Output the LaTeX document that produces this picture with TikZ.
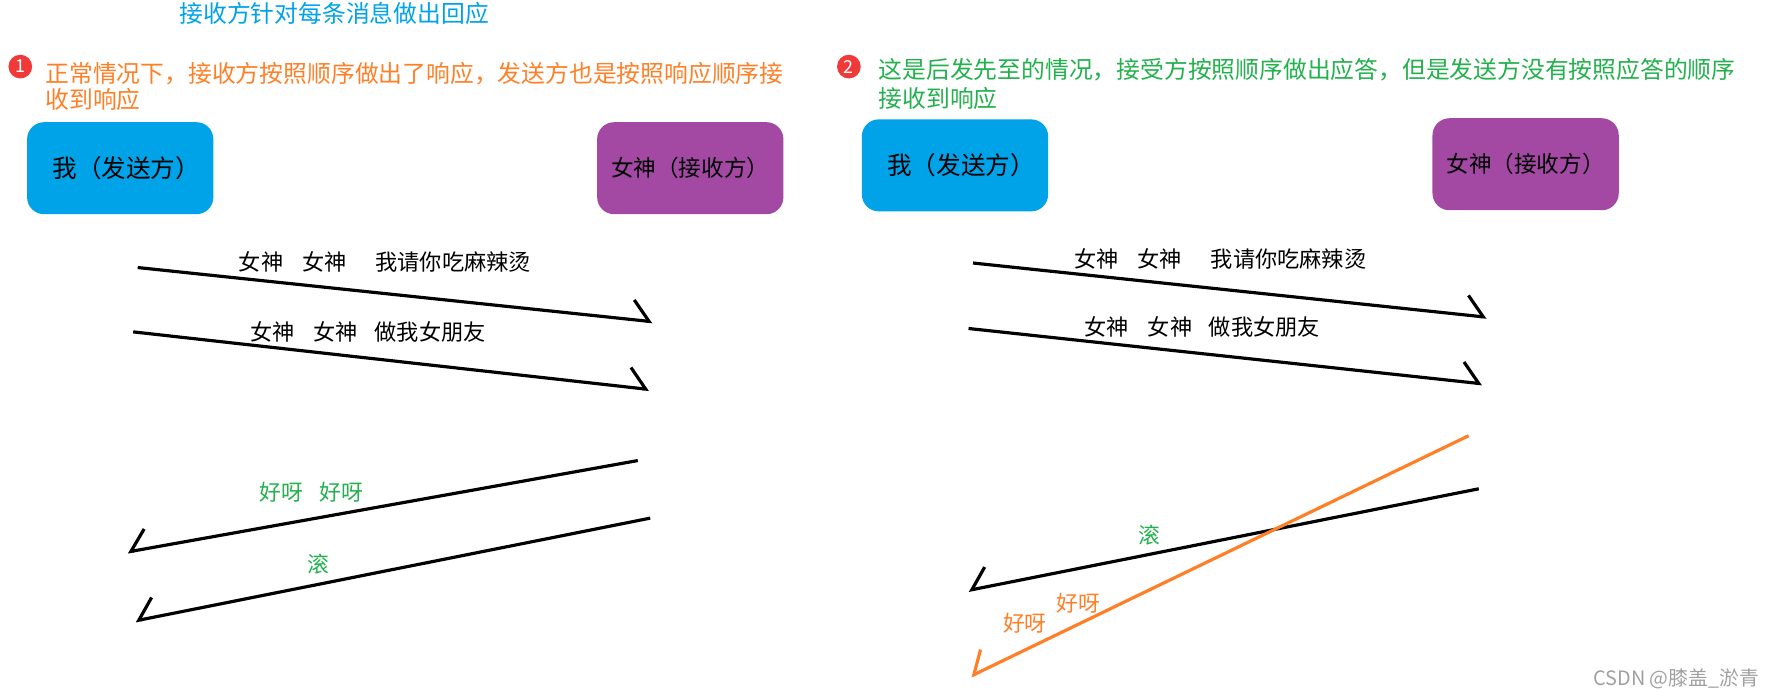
\documentclass[tikz,border=0pt]{standalone}
\usepackage{fontspec}
\setmainfont{Noto Sans CJK SC}
\usetikzlibrary{arrows.meta,positioning}
\definecolor{skyblue}{RGB}{0,162,232}
\definecolor{plum}{RGB}{163,73,164}
\definecolor{tangerine}{RGB}{255,127,39}
\definecolor{leaf}{RGB}{34,177,76}
\definecolor{dotred}{RGB}{240,58,58}
\definecolor{markgray}{RGB}{160,160,160}

\begin{document}
\begin{tikzpicture}[
  x=0.2mm, y=-0.2mm,
  party/.style={rounded corners=3mm, minimum width=3.3cm, minimum height=1.63cm,
                inner sep=0pt, align=center},
  me/.style={party, fill=skyblue, font=\fontsize{12.4}{14}\selectfont},
  her/.style={party, fill=plum, font=\fontsize{11.4}{13}\selectfont},
  note/.style={anchor=north west, align=left, inner sep=0pt},
  msg/.style={inner sep=0pt, font=\fontsize{11.2}{13}\selectfont},
  reply/.style={inner sep=0pt, font=\fontsize{11}{13}\selectfont},
  num/.style={circle, fill=dotred, text=white, inner sep=0pt, minimum size=4.2mm,
              font=\fontsize{9}{10}\selectfont},
  arr/.style={line width=1.6pt, -{Straight Barb[left, length=3mm, width=7mm]}},
  back/.style={line width=1.6pt, -{Straight Barb[right, length=3mm, width=7mm]}}
]
\useasboundingbox (0,0) rectangle (1568,617);

\node[text=skyblue, font=\fontsize{12}{14}\selectfont] (title) at (296,12) {接收方针对每条消息做出回应};

\node[num] (n1) at (18,59) {1};
\node[note, text=tangerine, font=\fontsize{12}{13.1}\selectfont] (case1) at (40,55)
  {正常情况下，接收方按照顺序做出了响应，发送方也是按照响应顺序接\\收到响应};
\node[num] (n2) at (752,59) {2};
\node[note, text=leaf, font=\fontsize{12}{14.8}\selectfont] (case2) at (778,51)
  {这是后发先至的情况，接受方按照顺序做出应答，但是发送方没有按照应答的顺序\\接收到响应};

\node[me]  (me1)  at (106.5,149)   {\hspace*{0.5em}我（发送方）};
\node[her] (her1) at (611.5,149)   {女神（接收方）};
\node[me]  (me2)  at (846,146.5)   {\hspace*{0.5em}我（发送方）};
\node[her] (her2) at (1351.5,145.5) {女神（接收方）};

\coordinate (a1s) at (122,237);  \coordinate (a1e) at (578,285);
\coordinate (a2s) at (118,294);  \coordinate (a2e) at (575,345);
\coordinate (a3s) at (565,408);  \coordinate (a3e) at (113,489);
\coordinate (a4s) at (576,459);  \coordinate (a4e) at (120,550);
\coordinate (b1s) at (862,233);  \coordinate (b1e) at (1317,281);
\coordinate (b2s) at (858,291);  \coordinate (b2e) at (1313,340);
\coordinate (b3s) at (1310,433); \coordinate (b3e) at (858,523);
\coordinate (b4s) at (1301,386); \coordinate (b4e) at (860,599);

\draw[arr] (a1s) -- (a1e);
\draw[arr] (a2s) -- (a2e);
\draw[back] (a3s) -- (a3e);
\draw[back] (a4s) -- (a4e);
\draw[arr] (b1s) -- (b1e);
\draw[arr] (b2s) -- (b2e);
\draw[back] (b3s) -- (b3e);
\draw[back, tangerine] (b4s) -- (b4e);

\node[msg] (ask1) at (341,232) {女神\hspace{0.85em}女神\hspace{1.3em}我请你吃麻辣烫};
\node[msg] (ask2) at (326,294) {女神\hspace{0.85em}女神\hspace{0.75em}做我女朋友};
\node[reply, text=leaf] (yes1) at (276,436) {好呀\hspace{0.75em}好呀};
\node[reply, text=leaf] (no1) at (282,500) {滚};
\node[msg] (ask3) at (1081,229) {女神\hspace{0.85em}女神\hspace{1.3em}我请你吃麻辣烫};
\node[msg] (ask4) at (1065,290) {女神\hspace{0.85em}女神\hspace{0.75em}做我女朋友};
\node[reply, text=leaf] (no2) at (1018,474) {滚};
\node[reply, text=tangerine] (yes2) at (955,534) {好呀};
\node[reply, text=tangerine] (yes3) at (908,552) {好呀};

\node[text=markgray, font=\fontsize{10}{12}\selectfont] (mark) at (1485,601) {CSDN @膝盖\_淤青};
\end{tikzpicture}
\end{document}
